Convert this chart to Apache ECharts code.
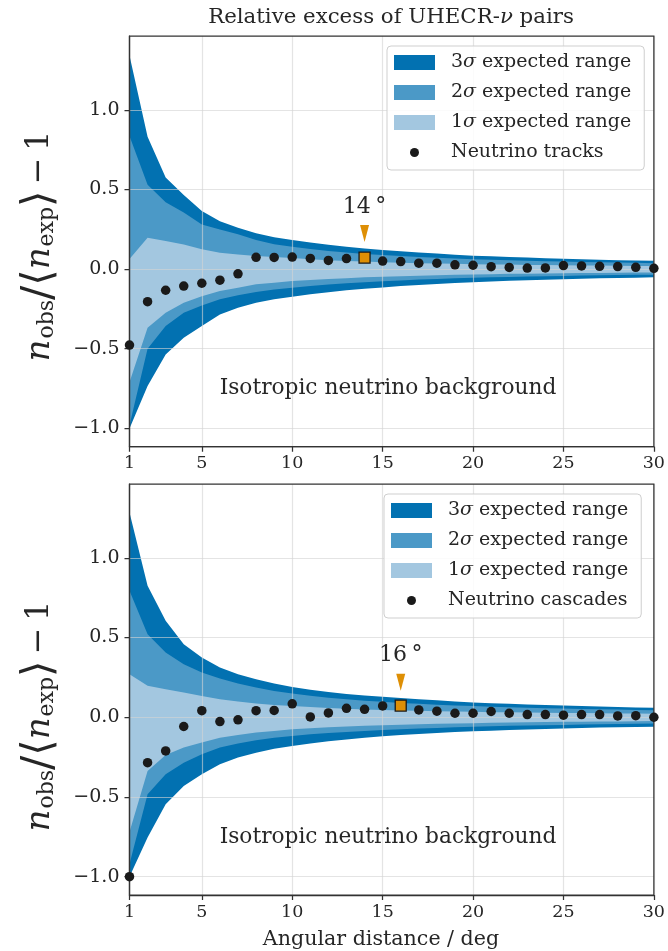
<!DOCTYPE html>
<html><head><meta charset="utf-8">
<script src="https://cdn.jsdelivr.net/npm/echarts@6/dist/echarts.min.js"></script>
<style>html,body{margin:0;padding:0;background:#fff}#c{width:668px;height:951px}</style>
</head><body><div id="c"></div>
<script>
// ---------------- data ----------------
const angles = [1,2,3,4,5,6,7,8,9,10,11,12,13,14,15,16,17,18,19,20,21,22,23,24,25,26,27,28,29,30];
const xTicks = [1,5,10,15,20,25,30];
const yTicks = [-1,-0.5,0,0.5,1];
const yRange = [-1.115, 1.463];

const tracksExcess = [-0.477,-0.205,-0.133,-0.107,-0.089,-0.070,-0.030,0.074,0.073,0.075,0.067,0.054,0.066,0.072,0.050,0.047,0.037,0.037,0.027,0.024,0.015,0.010,0.006,0.007,0.022,0.020,0.017,0.016,0.011,0.005];
const cascadesExcess = [-1.0,-0.285,-0.211,-0.058,0.041,-0.027,-0.016,0.041,0.043,0.084,0.002,0.027,0.056,0.050,0.071,0.073,0.046,0.038,0.025,0.025,0.036,0.025,0.017,0.017,0.013,0.017,0.017,0.008,0.010,0.000];

// expected ranges, tracks panel
const tracksU3 = [1.34,0.83,0.575,0.465,0.365,0.30,0.26,0.225,0.20,0.182,0.166,0.152,0.140,0.129,0.120,0.112,0.104,0.097,0.090,0.084,0.080,0.076,0.072,0.068,0.065,0.062,0.059,0.056,0.054,0.052];
const tracksU2 = [0.835,0.53,0.42,0.355,0.28,0.248,0.218,0.182,0.156,0.140,0.126,0.114,0.104,0.095,0.088,0.082,0.076,0.071,0.066,0.062,0.058,0.055,0.052,0.049,0.047,0.045,0.043,0.041,0.039,0.037];
const tracksU1 = [0.063,0.197,0.176,0.155,0.124,0.102,0.092,0.082,0.075,0.070,0.062,0.056,0.051,0.047,0.043,0.040,0.037,0.035,0.033,0.031,0.029,0.028,0.026,0.025,0.024,0.023,0.022,0.021,0.020,0.019];
const tracksL1 = [-0.71,-0.368,-0.274,-0.211,-0.170,-0.138,-0.117,-0.096,-0.086,-0.075,-0.068,-0.062,-0.057,-0.052,-0.048,-0.045,-0.042,-0.039,-0.036,-0.034,-0.032,-0.030,-0.029,-0.028,-0.026,-0.025,-0.024,-0.023,-0.022,-0.021];
const tracksL2 = [-0.98,-0.50,-0.358,-0.274,-0.228,-0.190,-0.165,-0.144,-0.128,-0.117,-0.106,-0.097,-0.089,-0.082,-0.076,-0.071,-0.066,-0.062,-0.058,-0.055,-0.052,-0.049,-0.047,-0.045,-0.043,-0.041,-0.039,-0.038,-0.036,-0.035];
const tracksL3 = [-1.0,-0.734,-0.536,-0.431,-0.358,-0.285,-0.243,-0.211,-0.190,-0.174,-0.158,-0.145,-0.133,-0.123,-0.115,-0.107,-0.100,-0.094,-0.088,-0.082,-0.078,-0.074,-0.070,-0.067,-0.064,-0.061,-0.058,-0.056,-0.054,-0.052];

// expected ranges, cascades panel
const cascU3 = [1.285,0.824,0.605,0.458,0.375,0.312,0.270,0.239,0.211,0.190,0.172,0.158,0.146,0.136,0.128,0.120,0.113,0.106,0.099,0.093,0.088,0.084,0.080,0.076,0.073,0.070,0.067,0.064,0.061,0.059];
const cascU2 = [0.793,0.521,0.406,0.333,0.281,0.243,0.211,0.186,0.165,0.149,0.135,0.123,0.113,0.104,0.097,0.090,0.084,0.079,0.074,0.070,0.066,0.063,0.060,0.057,0.055,0.052,0.050,0.048,0.046,0.044];
const cascU1 = [0.270,0.197,0.176,0.155,0.134,0.113,0.098,0.086,0.077,0.071,0.064,0.058,0.053,0.049,0.046,0.043,0.040,0.038,0.036,0.034,0.032,0.031,0.029,0.028,0.027,0.026,0.025,0.024,0.023,0.022];
const cascL1 = [-0.72,-0.337,-0.237,-0.190,-0.159,-0.128,-0.111,-0.096,-0.086,-0.075,-0.069,-0.063,-0.058,-0.054,-0.050,-0.047,-0.044,-0.041,-0.039,-0.037,-0.035,-0.033,-0.032,-0.030,-0.029,-0.028,-0.027,-0.026,-0.025,-0.024];
const cascL2 = [-0.92,-0.483,-0.358,-0.285,-0.232,-0.190,-0.165,-0.144,-0.128,-0.117,-0.107,-0.099,-0.092,-0.086,-0.080,-0.075,-0.071,-0.067,-0.063,-0.060,-0.057,-0.054,-0.052,-0.050,-0.048,-0.046,-0.044,-0.043,-0.041,-0.040];
const cascL3 = [-1.0,-0.755,-0.546,-0.431,-0.358,-0.295,-0.253,-0.222,-0.197,-0.180,-0.164,-0.151,-0.139,-0.129,-0.120,-0.112,-0.105,-0.099,-0.093,-0.088,-0.084,-0.080,-0.077,-0.074,-0.071,-0.068,-0.065,-0.063,-0.061,-0.059];

const hotspotAngles = [14, 16];          // marked best angle per panel
const arrowLevels = [0.223, 0.220];      // y-level of the orange arrow markers
const panelNames = ['Neutrino tracks', 'Neutrino cascades'];
const bandNames = ['3σ expected range', '2σ expected range', '1σ expected range'];

// ---------------- styling ----------------
const FONT = "'DejaVu Serif', serif";
const TXT = '#262626';
const SPINE = '#333333';
const GRIDC = 'rgba(212,212,212,0.62)';
const BAND_COLORS = ['#0271b1', '#4b99c7', '#a3c7e0'];
const ORANGE = '#de8f05';
const DOT_ICON = 'path://M0,0M41,15M16,7.5A4.5,4.5,0,1,1,25,7.5A4.5,4.5,0,1,1,16,7.5Z';

const grids = [
  {left: 129.5, top: 36, width: 524.5, height: 410.7},
  {left: 129.5, top: 484, width: 524.5, height: 411}
];

function bandSeries(name, lo, hi, color, idx, z2) {
  return {
    type: 'custom', name, xAxisIndex: idx, yAxisIndex: idx, z: 1, clip: true, silent: true,
    itemStyle: {color},
    encode: {x: 0, y: [1, 2]},
    data: angles.map((a, i) => [a, lo[i], hi[i]]),
    renderItem: function (params, api) {
      if (params.dataIndex !== 0) return null;
      const pts = [];
      for (let i = 0; i < angles.length; i++) pts.push(api.coord([angles[i], hi[i]]));
      for (let i = angles.length - 1; i >= 0; i--) pts.push(api.coord([angles[i], lo[i]]));
      return {type: 'polygon', z2: z2, shape: {points: pts}, style: {fill: color}};
    }
  };
}

function panelSeries(idx, excess, bands) {
  const hs = hotspotAngles[idx];
  const hsVal = excess[angles.indexOf(hs)];
  return [
    bandSeries(bandNames[0], bands[5], bands[0], BAND_COLORS[0], idx, 0),
    bandSeries(bandNames[1], bands[4], bands[1], BAND_COLORS[1], idx, 1),
    bandSeries(bandNames[2], bands[3], bands[2], BAND_COLORS[2], idx, 2),
    {
      type: 'scatter', name: panelNames[idx], xAxisIndex: idx, yAxisIndex: idx, z: 5,
      symbol: 'circle', symbolSize: 9.5, itemStyle: {color: '#1a1a1a', opacity: 1}, clip: true, silent: true,
      data: angles.map((a, i) => [a, excess[i]])
    },
    {
      type: 'scatter', name: 'hotspot' + idx, xAxisIndex: idx, yAxisIndex: idx, z: 6,
      symbol: 'rect', symbolSize: 11, silent: true,
      itemStyle: {color: ORANGE, borderColor: '#1a1a1a', borderWidth: 1.3, opacity: 1},
      data: [[hs, hsVal]]
    },
    {
      type: 'scatter', name: 'arrow' + idx, xAxisIndex: idx, yAxisIndex: idx, z: 6,
      symbol: 'path://M0,0L10,0L5,18Z', symbolSize: [9, 17], silent: true,
      itemStyle: {color: ORANGE, opacity: 1},
      label: {show: true, position: 'top', distance: 7, formatter: hs + '\u2009°',
        fontFamily: FONT, fontSize: 22, color: TXT, opacity: 1},
      data: [[hs, arrowLevels[idx]]]
    }
  ];
}

function xAxisCfg(idx) {
  return {
    type: 'value', gridIndex: idx, min: 1, max: 30, z: 3,
    axisLine: {show: true, onZero: false, lineStyle: {color: SPINE, width: 1.25}},
    axisTick: {show: true, customValues: xTicks, length: 5, lineStyle: {color: SPINE, width: 1.25}},
    axisLabel: {customValues: xTicks, margin: 8, fontFamily: FONT, fontSize: 17.5, color: TXT},
    splitLine: {show: true, lineStyle: {color: GRIDC, width: 1.2}}
  };
}
function yAxisCfg(idx) {
  return {
    type: 'value', gridIndex: idx, min: yRange[0], max: yRange[1], z: 3,
    axisLine: {show: true, onZero: false, lineStyle: {color: SPINE, width: 1.25}},
    axisTick: {show: true, customValues: yTicks, length: 5, lineStyle: {color: SPINE, width: 1.25}},
    axisLabel: {customValues: yTicks, margin: 10, fontFamily: FONT, fontSize: 19, color: TXT,
      formatter: v => (v < 0 ? '\u2212' : '') + Math.abs(v).toFixed(1)},
    splitLine: {show: true, lineStyle: {color: GRIDC, width: 1.2}}
  };
}
function legendCfg(idx, left, top) {
  return {
    orient: 'vertical', left: left, top: top, selectedMode: false,
    data: [
      {name: bandNames[0]}, {name: bandNames[1]}, {name: bandNames[2]},
      {name: panelNames[idx], icon: DOT_ICON}
    ],
    icon: 'rect', itemWidth: 41, itemHeight: 15, itemGap: 11,
    padding: [7, 13, 8, 7],
    borderColor: '#cfcfcf', borderWidth: 1, borderRadius: 4,
    backgroundColor: 'rgba(255,255,255,0.85)', z: 8,
    formatter: name => name.replace(/^(\d)σ/, '{d|$1}{s|σ}'),
    textStyle: {fontFamily: FONT, fontSize: 19, color: TXT, padding: [0, 0, 0, 11],
      rich: {d: {fontFamily: FONT, fontSize: 19, color: TXT},
             s: {fontFamily: FONT, fontStyle: 'italic', fontSize: 19, color: TXT}}}
  };
}

const yLabelRich = {
  n: {fontFamily: FONT, fontStyle: 'italic', fontSize: 34, fill: TXT},
  sb: {fontFamily: FONT, fontSize: 22, fill: TXT, padding: [15, 0, 0, 1]},
  b: {fontFamily: "'DejaVu Sans', sans-serif", fontSize: 42, fill: TXT},
  m: {fontFamily: FONT, fontSize: 32, fill: TXT}
};
const yLabelText = '{n|n}{sb|obs}{b|/⟨}{n|n}{sb|exp}{b|⟩}{m|\u2009\u2212\u20091}';

function yLabel(cy) {
  return {type: 'text', x: 40, y: cy, rotation: Math.PI / 2, z: 10,
    style: {text: yLabelText, rich: yLabelRich, align: 'center', verticalAlign: 'middle', fill: TXT}};
}

const option = {
  animation: false,
  backgroundColor: '#ffffff',
  grid: grids.map(g => Object.assign({show: true, borderColor: SPINE, borderWidth: 1.25,
    backgroundColor: 'transparent', z: 4}, g)),
  xAxis: [xAxisCfg(0), xAxisCfg(1)],
  yAxis: [yAxisCfg(0), yAxisCfg(1)],
  legend: [legendCfg(0, 387, 46), legendCfg(1, 384, 494)],
  series: [].concat(
    panelSeries(0, tracksExcess, [tracksU3, tracksU2, tracksU1, tracksL1, tracksL2, tracksL3]),
    panelSeries(1, cascadesExcess, [cascU3, cascU2, cascU1, cascL1, cascL2, cascL3])
  ),
  graphic: [
    {type: 'text', x: 391, y: 17, z: 10,
      style: {text: '{a|Relative excess of UHECR-}{i|ν}{a| pairs}', align: 'center', verticalAlign: 'middle',
        rich: {a: {fontFamily: FONT, fontSize: 21.3, fill: TXT}, i: {fontFamily: FONT, fontStyle: 'italic', fontSize: 21.3, fill: TXT}}}},
    yLabel(246), yLabel(716),
    {type: 'text', x: 388, y: 388, z: 10,
      style: {text: 'Isotropic neutrino background', fontFamily: FONT, fontSize: 21.7, fill: TXT, align: 'center', verticalAlign: 'middle'}},
    {type: 'text', x: 388, y: 837, z: 10,
      style: {text: 'Isotropic neutrino background', fontFamily: FONT, fontSize: 21.7, fill: TXT, align: 'center', verticalAlign: 'middle'}},
    {type: 'text', x: 381, y: 940, z: 10,
      style: {text: 'Angular distance / deg', fontFamily: FONT, fontSize: 20.6, fill: TXT, align: 'center', verticalAlign: 'middle'}}
  ]
};

const chart = echarts.init(document.getElementById('c'));
chart.setOption(option);
</script>
</body></html>
